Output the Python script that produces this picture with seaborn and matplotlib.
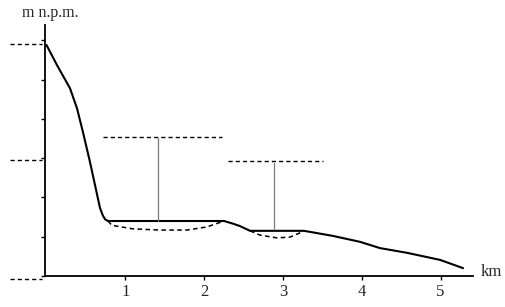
import matplotlib
matplotlib.use("Agg")
import matplotlib.pyplot as plt
import seaborn as sns

# profile of the valley (km, relative height)
profile_x = [0.0, 0.133, 0.298, 0.387, 0.463, 0.552, 0.615, 0.679, 0.715, 0.745, 0.780, 2.253,
             2.370, 2.456, 2.583, 3.268, 3.636, 3.978, 4.232, 4.575, 4.994, 5.286]
profile_y = [5.88, 5.37, 4.78, 4.27, 3.66, 2.90, 2.32, 1.73, 1.54, 1.44, 1.40, 1.40,
             1.33, 1.27, 1.15, 1.15, 1.02, 0.87, 0.71, 0.59, 0.41, 0.20]

# lake beds (dashed)
bed1_x = [0.780, 0.830, 1.098, 1.440, 1.783, 2.037, 2.253]
bed1_y = [1.40, 1.29, 1.20, 1.17, 1.17, 1.25, 1.40]
bed2_x = [2.583, 2.710, 2.925, 3.090, 3.242, 3.268]
bed2_y = [1.15, 1.04, 0.97, 0.99, 1.12, 1.15]

# upper dashed levels and gauges
level1_x = [0.717, 2.227]
level1_y = 3.54
gauge1_x = 1.415
gauge1_y = [3.51, 1.40]
level2_x = [2.303, 3.509]
level2_y = 2.93
gauge2_x = 2.887
gauge2_y = [2.87, 1.20]

# left reference dashes
ref_levels = [5.90, 2.95, -0.08]
ref_x = [-0.463, -0.057]

x_ticks = [1, 2, 3, 4, 5]
x_tick_labels = ["1", "2", "3", "4", "5"]
y_ticks = [0, 1, 2, 3, 4, 5, 6]

sns.set_style("ticks")
plt.rcParams['font.family'] = ['Liberation Serif', 'DejaVu Serif']

fig = plt.figure(figsize=(5.05, 3.07), dpi=100)
ax = fig.add_axes([45 / 505, 31 / 307, 428 / 505, 251 / 307])

dash = (0, (3.0, 2.2))

sns.lineplot(x=profile_x, y=profile_y, ax=ax, color="black", linewidth=1.5,
             sort=False, estimator=None)
sns.lineplot(x=bed1_x, y=bed1_y, ax=ax, color="black", linewidth=1.1,
             sort=False, estimator=None, linestyle="--")
sns.lineplot(x=bed2_x, y=bed2_y, ax=ax, color="black", linewidth=1.1,
             sort=False, estimator=None, linestyle="--")
for l in ax.lines[1:3]:
    l.set_linestyle(dash)

ax.plot(level1_x, [level1_y, level1_y], color="black", lw=1.0, ls=dash)
ax.plot(level2_x, [level2_y, level2_y], color="black", lw=1.0, ls=dash)
ax.plot([gauge1_x, gauge1_x], gauge1_y, color="#7a7a7a", lw=0.9)
ax.plot([gauge2_x, gauge2_x], gauge2_y, color="#7a7a7a", lw=0.9)

for lv in ref_levels:
    ax.plot(ref_x, [lv, lv], color="black", lw=1.0, ls=dash, clip_on=False)

ax.set_xlim(-0.019, 5.412)
ax.set_ylim(0, 6.39)
ax.set_xticks(x_ticks)
ax.set_xticklabels(x_tick_labels, fontsize=12)
ax.set_yticks(y_ticks)
ax.set_yticklabels([])
ax.tick_params(axis="both", direction="out", length=3, width=1.0, color="black", pad=3)
for s in ["top", "right"]:
    ax.spines[s].set_visible(False)
for s in ["left", "bottom"]:
    ax.spines[s].set_color("black")
    ax.spines[s].set_linewidth(1.3)
ax.set_xlabel("")
ax.set_ylabel("")

fig.text(481 / 505, 1 - 272 / 307, "km", fontsize=12, va="center", ha="left")
fig.text(22 / 505, 1 - 13 / 307, "m n.p.m.", fontsize=11.5, va="center", ha="left")

fig.savefig("out.png", dpi=100, facecolor="white")
